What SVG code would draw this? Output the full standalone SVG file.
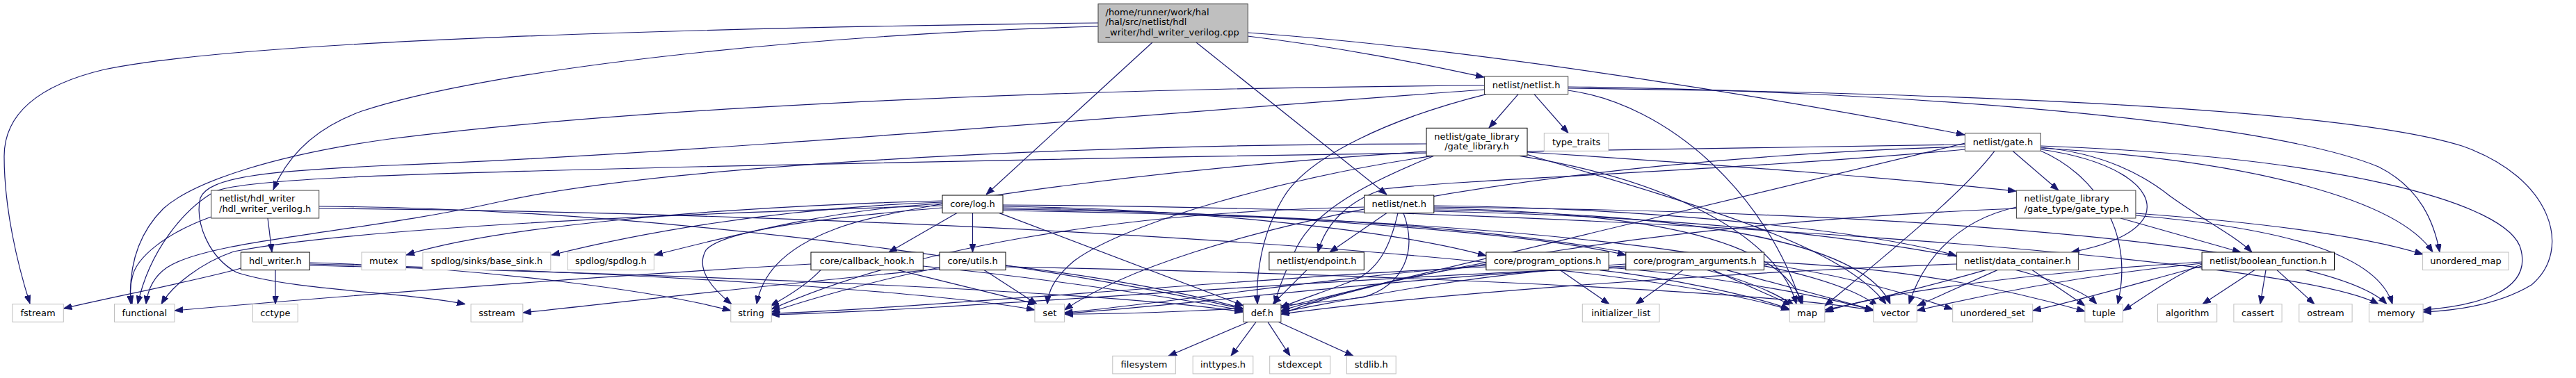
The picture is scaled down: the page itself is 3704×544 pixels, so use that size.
<svg xmlns="http://www.w3.org/2000/svg" width="3704" height="544" viewBox="0 0 3704 544">
<style>
text{font-family:"DejaVu Sans","Liberation Sans",sans-serif;font-size:13px;fill:#000}
.c{text-anchor:middle}
rect{fill:#fff;stroke:#000;stroke-width:1}
.dk rect{stroke:#404040}
.gy rect{stroke:#bfbfbf}
#edges path{fill:none;stroke:#191970;stroke-width:1.2;marker-end:url(#ah)}
</style>
<defs>
<marker id="ah" markerWidth="12" markerHeight="9" refX="12" refY="4.5" orient="auto" markerUnits="userSpaceOnUse">
<path d="M0,0 L12,4.5 L0,9 z" fill="#191970" stroke="#191970" stroke-width="0.8"/>
</marker>
</defs>
<rect x="0" y="0" width="3704" height="544" style="fill:#fff;stroke:none"/>
<g id="edges">
<path d="M1579,38 C1150,50 700,100 520,160 C450,185 412,228 393,273"/>
<path d="M1579,33 C1000,40 350,58 150,100 C45,125 6,170 6,225 C6,300 25,380 43,437"/>
<path d="M1657,61 L1418,280"/>
<path d="M1720,61 L1994,280"/>
<path d="M1794,52 C1960,72 2080,100 2134,111"/>
<path d="M1794,47 C2150,72 2600,150 2825,194"/>
<path d="M2183,135.6 L2141,184"/>
<path d="M2206,135.6 L2255,191.5"/>
<path d="M2134.5,123 C1600,126 950,150 560,200 C400,222 280,260 235,300 C195,340 185,390 188,437.7"/>
<path d="M2134.5,129 C1700,160 1000,222 560,238 C380,246 300,255 288,285 C280,320 300,370 340,392 C420,418 580,420 669,437.7"/>
<path d="M2137,135.6 C2000,170 1880,225 1845,285 C1812,340 1806,400 1808,437.7"/>
<path d="M2254.7,125 C2700,130 3250,170 3420,240 C3480,270 3500,320 3508,363"/>
<path d="M2254.7,127 C2700,132 3350,150 3540,210 C3670,255 3700,360 3640,410 C3590,440 3530,447 3484.1,449"/>
<path d="M2254.7,130 C2400,150 2540,280 2590,437.7"/>
<path d="M2051,207 C1500,208 950,240 720,290 C520,335 300,345 240,385 C218,400 212,420 210,437.7"/>
<path d="M2196,219 C2500,238 2780,262 2899,275"/>
<path d="M2062,224.3 C1960,265 1890,305 1865,355 C1848,390 1838,415 1833,437.7"/>
<path d="M2060,224.3 C1850,255 1620,320 1545,375 C1515,400 1507,420 1506,437.7"/>
<path d="M2051,218 C1700,240 1300,290 1200,330 C1120,360 1095,400 1088,437.7"/>
<path d="M2185,224.3 C2420,262 2560,350 2583,437.7"/>
<path d="M2196.7,222.7 C2450,297 2650,355 2712,437.7"/>
<path d="M2894,217.3 L2960,274"/>
<path d="M2868,217.3 C2820,280 2720,360 2624,440"/>
<path d="M2825.5,208 C2400,215 1600,225 1000,240 C600,250 360,256 310,275 C265,300 215,360 198,437.7"/>
<path d="M2934.2,212 C3020,220 3080,250 3120,282 C3170,318 3215,340 3238,363"/>
<path d="M2934.2,215 C3040,230 3100,270 3085,310 C3070,340 3020,355 2978,363"/>
<path d="M2825.5,215 C2500,245 2100,258 1990,272 C1935,290 1905,325 1895,363"/>
<path d="M2934.2,210 C3350,225 3610,290 3625,360 C3640,420 3560,440 3484.1,446"/>
<path d="M2934.2,213 C3250,232 3450,290 3498,363"/>
<path d="M2934.2,217 C3010,250 3070,330 3045,437.7"/>
<path d="M2825.5,206 L1842,443"/>
<path d="M2825.5,211 C2200,230 1700,330 1530.6,446"/>
<path d="M3049,314 L3222,363"/>
<path d="M3071,307 C3250,320 3400,340 3484,366"/>
<path d="M2899.4,298 C2800,320 2760,390 2745,437.7"/>
<path d="M2899.4,300 C2400,320 2000,390 1842,452"/>
<path d="M3071,310 C3300,330 3420,370 3440,437.7"/>
<path d="M2922,388.6 L2998,440"/>
<path d="M2872,388.6 L2757,440"/>
<path d="M2855,388.6 C2780,410 2680,435 2624,446"/>
<path d="M2813.6,380 C2400,395 2000,430 1842,452"/>
<path d="M3242,388.6 L3167,437.7"/>
<path d="M3258,388.6 L3250,437.7"/>
<path d="M3274,388.6 L3328,437.7"/>
<path d="M3166,380 C3120,400 3080,430 3053,447"/>
<path d="M3166,377 C2950,390 2700,420 2624,449"/>
<path d="M3166,379 C3000,395 2850,425 2756,447"/>
<path d="M3166,383 C3100,400 3000,430 2922.7,447"/>
<path d="M2243,388.6 L2314,437.7"/>
<path d="M2136.9,380 C2000,400 1900,430 1842,447"/>
<path d="M2136.9,382 C1900,400 1650,440 1530.6,450"/>
<path d="M2136.9,384 C1800,400 1300,445 1109.3,451"/>
<path d="M2300,388.6 C2400,400 2520,425 2573,445"/>
<path d="M2313,385 C2450,395 2620,425 2694,447"/>
<path d="M2420,388.6 L2352,437.7"/>
<path d="M2463,388.6 L2576,439"/>
<path d="M2483,388.6 C2560,410 2640,432 2694,446"/>
<path d="M2536.4,380 C2650,395 2750,425 2807.7,445"/>
<path d="M2536.4,377 C2750,385 2900,420 2997.9,448"/>
<path d="M2337.8,380 C2100,395 1950,430 1842,449"/>
<path d="M2337.8,383 C2000,400 1700,440 1530.6,451"/>
<path d="M2337.8,385 C1900,400 1400,445 1109.3,453"/>
<path d="M1879,388.6 L1830,437.7"/>
<path d="M1994,306.6 L1912,363"/>
<path d="M2010,306.6 C2000,350 1985,385 1950,402 C1905,420 1865,432 1841,443"/>
<path d="M2018,306.6 C2038,360 2020,410 1960,428 C1800,448 1600,452 1530.6,452"/>
<path d="M2061.8,296 C2400,300 2700,335 2813,368"/>
<path d="M1961.7,298 C1600,305 1300,360 1109,445"/>
<path d="M2061.8,300 C2350,305 2560,340 2592,437.7"/>
<path d="M2061.8,302 C2450,308 2680,350 2718,437.7"/>
<path d="M2061.8,298 C2800,305 3350,355 3432,437.7"/>
<path d="M2061.8,304 C2600,315 2960,380 3015,437.7"/>
<path d="M1376,306.6 L1278,363"/>
<path d="M1398.5,306.6 L1398.5,363"/>
<path d="M1437,306.6 L1788,440"/>
<path d="M1355,289 C1000,298 700,330 584,367"/>
<path d="M1355,291 C1100,300 900,340 793,367"/>
<path d="M1355,293 C1200,300 1050,340 941,367"/>
<path d="M1355,296 C900,310 500,330 336,362 C290,378 248,410 232,437.7"/>
<path d="M1355,299 C1200,312 1040,330 1015,360 C998,390 1030,420 1052,437.7"/>
<path d="M1442,297 C1700,300 2000,330 2136.9,368"/>
<path d="M1442,299 C1800,305 2200,335 2337.8,367"/>
<path d="M1442,301 C2000,308 2450,350 2580,440"/>
<path d="M1442,303 C2100,312 2600,360 2700,441"/>
<path d="M1442,295 C2300,300 3300,370 3420,437.7"/>
<path d="M1166,380 C900,395 500,425 251,447"/>
<path d="M1180,388.6 C1160,410 1130,428 1108,440"/>
<path d="M1291,388.6 L1490,437.7"/>
<path d="M1327.3,383 C1500,400 1700,430 1787.6,447"/>
<path d="M1415,388.6 L1491,437.7"/>
<path d="M1351,385 C1250,405 1150,435 1109.3,449"/>
<path d="M1351,387 C1100,410 850,440 751.8,450"/>
<path d="M1446,382 C1600,400 1720,425 1787.6,444"/>
<path d="M1446,384 C2000,395 2550,420 2693.8,447"/>
<path d="M346.4,386 C300,400 150,430 91.3,444"/>
<path d="M396,388.6 L396,437.7"/>
<path d="M445.2,378 C700,385 950,420 1050.8,447"/>
<path d="M445.2,380 C900,390 1350,420 1487.9,446"/>
<path d="M445.2,382 C1000,395 1600,420 1787.6,449"/>
<path d="M385,314 L391,363"/>
<path d="M303.7,312 C240,335 195,370 190,400 C186,415 187,425 190,437.7"/>
<path d="M458.7,297 C1000,300 1600,400 1787.6,445"/>
<path d="M458.7,300 C1200,305 2300,360 2573,446"/>
<path d="M1795,463.3 L1680,512.3"/>
<path d="M1806,463.3 L1770,512.3"/>
<path d="M1823,463.3 L1855,512.3"/>
<path d="M1838,463.3 L1946,512.3"/>
</g>
<g id="node0" class="dk"><rect x="1579" y="5.7" width="215.3" height="55.3" style="fill:#bfbfbf"/><text x="1589.5" y="21.7">/home/runner/work/hal</text><text x="1589.5" y="36.2">/hal/src/netlist/hdl</text><text x="1589.5" y="50.7">_writer/hdl_writer_verilog.cpp</text></g>
<g id="node1" class="dk"><rect x="2134.5" y="110" width="120.2" height="25.6"/><text class="c" x="2194.6" y="127">netlist/netlist.h</text></g>
<g id="node2"><rect x="2051" y="184.3" width="145" height="40"/><text class="c" x="2123.5" y="200.6">netlist/gate_library</text><text class="c" x="2123.5" y="215">/gate_library.h</text></g>
<g id="node3" class="gy"><rect x="2220.3" y="191.7" width="92.6" height="25.6"/><text class="c" x="2266.6" y="208.7">type_traits</text></g>
<g id="node4" class="dk"><rect x="2825.5" y="191.7" width="108.7" height="25.6"/><text class="c" x="2879.9" y="208.7">netlist/gate.h</text></g>
<g id="node5" class="dk"><rect x="303.7" y="274" width="155" height="40"/><text x="315" y="290">netlist/hdl_writer</text><text x="315" y="304.7">/hdl_writer_verilog.h</text></g>
<g id="node6"><rect x="1355" y="281" width="87" height="25.6"/><text class="c" x="1398.5" y="298">core/log.h</text></g>
<g id="node7"><rect x="1961.7" y="281" width="100.1" height="25.6"/><text class="c" x="2011.7" y="298">netlist/net.h</text></g>
<g id="node8" class="dk"><rect x="2899.4" y="274" width="171.5" height="40"/><text x="2910.5" y="290">netlist/gate_library</text><text x="2910.5" y="304.7">/gate_type/gate_type.h</text></g>
<g id="node9"><rect x="346.4" y="363" width="98.8" height="25.6"/><text class="c" x="395.8" y="380">hdl_writer.h</text></g>
<g id="node10" class="gy"><rect x="520" y="363" width="63.6" height="25.6"/><text class="c" x="551.8" y="380">mutex</text></g>
<g id="node11" class="gy"><rect x="607.9" y="363" width="183.9" height="25.6"/><text class="c" x="699.9" y="380">spdlog/sinks/base_sink.h</text></g>
<g id="node12" class="gy"><rect x="816.3" y="363" width="124.1" height="25.6"/><text class="c" x="878.4" y="380">spdlog/spdlog.h</text></g>
<g id="node13"><rect x="1166" y="363" width="161.3" height="25.6"/><text class="c" x="1246.7" y="380">core/callback_hook.h</text></g>
<g id="node14"><rect x="1351" y="363" width="95" height="25.6"/><text class="c" x="1398.5" y="380">core/utils.h</text></g>
<g id="node15"><rect x="1824.9" y="363" width="136.4" height="25.6"/><text class="c" x="1893.1" y="380">netlist/endpoint.h</text></g>
<g id="node16"><rect x="2136.9" y="363" width="176.4" height="25.6"/><text class="c" x="2225.1" y="380">core/program_options.h</text></g>
<g id="node17"><rect x="2337.8" y="363" width="198.6" height="25.6"/><text class="c" x="2437.1" y="380">core/program_arguments.h</text></g>
<g id="node18" class="dk"><rect x="2813.6" y="363" width="174.8" height="25.6"/><text class="c" x="2901" y="380">netlist/data_container.h</text></g>
<g id="node19"><rect x="3166.1" y="363" width="190.4" height="25.6"/><text class="c" x="3261.3" y="380">netlist/boolean_function.h</text></g>
<g id="node20" class="gy"><rect x="3483.6" y="363" width="123.5" height="25.6"/><text class="c" x="3545.4" y="380">unordered_map</text></g>
<g id="node21" class="gy"><rect x="17.8" y="437.7" width="73.5" height="25.6"/><text class="c" x="54.6" y="454.7">fstream</text></g>
<g id="node22" class="gy"><rect x="164.5" y="437.7" width="86.5" height="25.6"/><text class="c" x="207.8" y="454.7">functional</text></g>
<g id="node23" class="gy"><rect x="363.4" y="437.7" width="64.8" height="25.6"/><text class="c" x="395.8" y="454.7">cctype</text></g>
<g id="node24" class="gy"><rect x="677.1" y="437.7" width="74.7" height="25.6"/><text class="c" x="714.5" y="454.7">sstream</text></g>
<g id="node25" class="gy"><rect x="1050.8" y="437.7" width="58.5" height="25.6"/><text class="c" x="1080" y="454.7">string</text></g>
<g id="node26" class="gy"><rect x="1487.9" y="437.7" width="42.7" height="25.6"/><text class="c" x="1509.3" y="454.7">set</text></g>
<g id="node27" class="dk"><rect x="1787.6" y="437.7" width="54.3" height="25.6"/><text class="c" x="1814.8" y="454.7">def.h</text></g>
<g id="node28" class="gy"><rect x="2275.3" y="437.7" width="110.7" height="25.6"/><text class="c" x="2330.7" y="454.7">initializer_list</text></g>
<g id="node29" class="gy"><rect x="2573.2" y="437.7" width="50.6" height="25.6"/><text class="c" x="2598.5" y="454.7">map</text></g>
<g id="node30" class="gy"><rect x="2693.8" y="437.7" width="62.5" height="25.6"/><text class="c" x="2725" y="454.7">vector</text></g>
<g id="node31" class="gy"><rect x="2807.7" y="437.7" width="115" height="25.6"/><text class="c" x="2865.2" y="454.7">unordered_set</text></g>
<g id="node32" class="gy"><rect x="2997.9" y="437.7" width="54.6" height="25.6"/><text class="c" x="3025.2" y="454.7">tuple</text></g>
<g id="node33" class="gy"><rect x="3102.4" y="437.7" width="85.3" height="25.6"/><text class="c" x="3145" y="454.7">algorithm</text></g>
<g id="node34" class="gy"><rect x="3211.9" y="437.7" width="69.2" height="25.6"/><text class="c" x="3246.5" y="454.7">cassert</text></g>
<g id="node35" class="gy"><rect x="3305.8" y="437.7" width="76.3" height="25.6"/><text class="c" x="3344" y="454.7">ostream</text></g>
<g id="node36" class="gy"><rect x="3406.4" y="437.7" width="77.7" height="25.6"/><text class="c" x="3445.3" y="454.7">memory</text></g>
<g id="node37" class="gy"><rect x="1599.8" y="512.3" width="90.5" height="25.6"/><text class="c" x="1645" y="529.3">filesystem</text></g>
<g id="node38" class="gy"><rect x="1715.2" y="512.3" width="86.6" height="25.6"/><text class="c" x="1758.5" y="529.3">inttypes.h</text></g>
<g id="node39" class="gy"><rect x="1825.7" y="512.3" width="87" height="25.6"/><text class="c" x="1869.2" y="529.3">stdexcept</text></g>
<g id="node40" class="gy"><rect x="1936.4" y="512.3" width="70.8" height="25.6"/><text class="c" x="1971.8" y="529.3">stdlib.h</text></g>
</svg>
